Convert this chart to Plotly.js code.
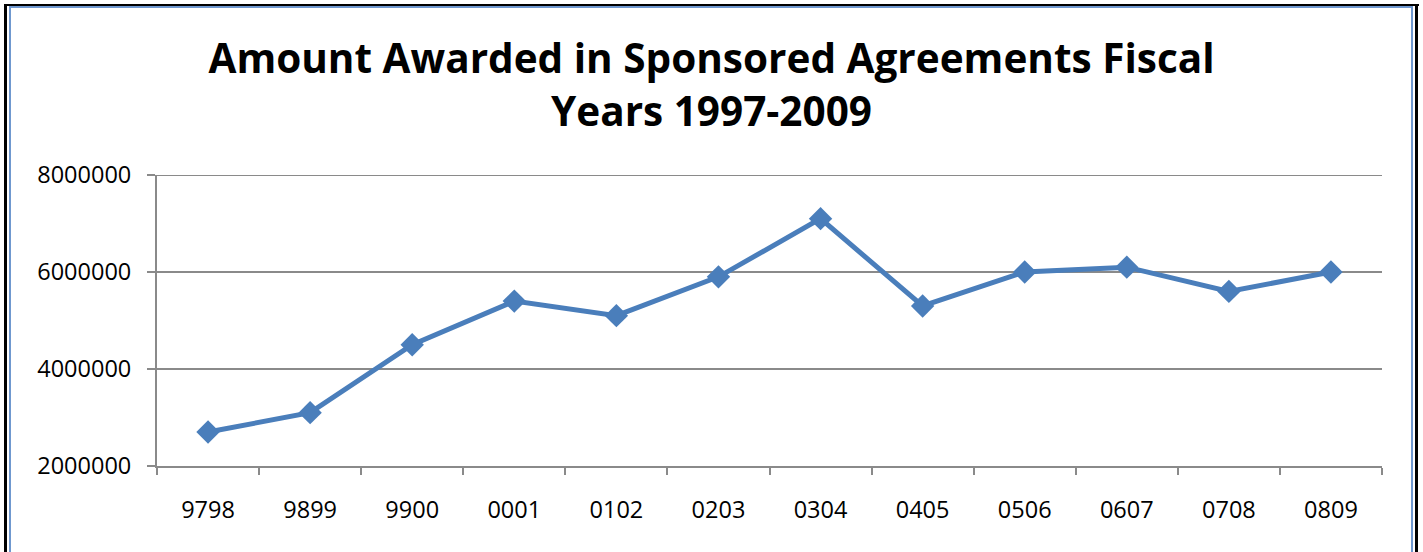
<!DOCTYPE html>
<html>
<head>
<meta charset="utf-8">
<script src="https://cdn.plot.ly/plotly-3.0.1.min.js"></script>
<style>
  html, body { margin: 0; padding: 0; background: #ffffff; overflow: hidden; }
  #wrap { position: relative; width: 1423px; height: 552px; }
  #chart { position: absolute; left: 0; top: 0; width: 1423px; height: 552px; }
  .ln { position: absolute; pointer-events: none; }
</style>
</head>
<body>
<div id="wrap">
  <div id="chart"></div>
  <div class="ln" style="left:4px;top:4px;width:3px;height:560px;background:#000;"></div>
  <div class="ln" style="left:4px;top:4px;width:1415px;height:2px;background:#000;"></div>
  <div class="ln" style="left:9px;top:6px;width:1403px;height:2px;background:#6f98cf;"></div>
  <div class="ln" style="left:9px;top:6px;width:2px;height:560px;background:#6f98cf;"></div>
  <div class="ln" style="left:1411px;top:6px;width:2px;height:560px;background:#6f98cf;"></div>
  <div class="ln" style="left:1415px;top:4px;width:3px;height:560px;background:#000;"></div>
</div>
<script>
const categories = ["9798", "9899", "9900", "0001", "0102", "0203", "0304", "0405", "0506", "0607", "0708", "0809"];
const amounts = [2700000, 3100000, 4500000, 5400000, 5100000, 5900000, 7100000, 5300000, 6000000, 6100000, 5600000, 6000000];
const yTicks = [2000000, 4000000, 6000000, 8000000];
const chartTitle = "Amount Awarded in Sponsored Agreements Fiscal<br>Years 1997-2009";

const gridColor = "#8a8a8a";

const trace = {
  type: "scatter",
  mode: "lines+markers",
  x: categories,
  y: amounts,
  line: { color: "#4a7ebb", width: 5 },
  marker: { symbol: "diamond", size: 18, color: "#4a7ebb" },
  hoverinfo: "x+y"
};

const tickFont = { family: "Open Sans, sans-serif", size: 23.5, color: "#000000" };

const layout = {
  width: 1423,
  height: 552,
  margin: { l: 157, r: 41, t: 175, b: 86 },
  paper_bgcolor: "rgba(0,0,0,0)",
  plot_bgcolor: "#ffffff",
  showlegend: false,
  title: {
    text: chartTitle,
    font: { family: "Open Sans, sans-serif", size: 40.5, color: "#000000", weight: 700 },
    x: 0.5,
    xanchor: "center",
    y: 0.868,
    yanchor: "middle"
  },
  xaxis: {
    type: "category",
    range: [-0.5, 11.5],
    tickson: "boundaries",
    ticks: "outside",
    ticklen: 7,
    tickwidth: 2,
    tickcolor: gridColor,
    showline: true,
    linecolor: gridColor,
    linewidth: 2,
    showgrid: false,
    tickfont: tickFont,
    ticklabelstandoff: 22,
    fixedrange: true
  },
  yaxis: {
    range: [2000000, 8000000],
    tickvals: yTicks,
    tickformat: "d",
    ticks: "outside",
    ticklen: 8,
    tickwidth: 2,
    tickcolor: gridColor,
    showline: true,
    linecolor: gridColor,
    linewidth: 2,
    showgrid: true,
    gridcolor: gridColor,
    gridwidth: 2,
    zeroline: false,
    tickfont: tickFont,
    ticklabelstandoff: 11,
    fixedrange: true
  },
  shapes: [{
    type: "line",
    xref: "paper", x0: 0, x1: 1,
    yref: "y", y0: yTicks[yTicks.length - 1], y1: yTicks[yTicks.length - 1],
    line: { color: gridColor, width: 2 },
    layer: "below"
  }]
};

Plotly.newPlot("chart", [trace], layout, { displayModeBar: false, staticPlot: true });
</script>
</body>
</html>
